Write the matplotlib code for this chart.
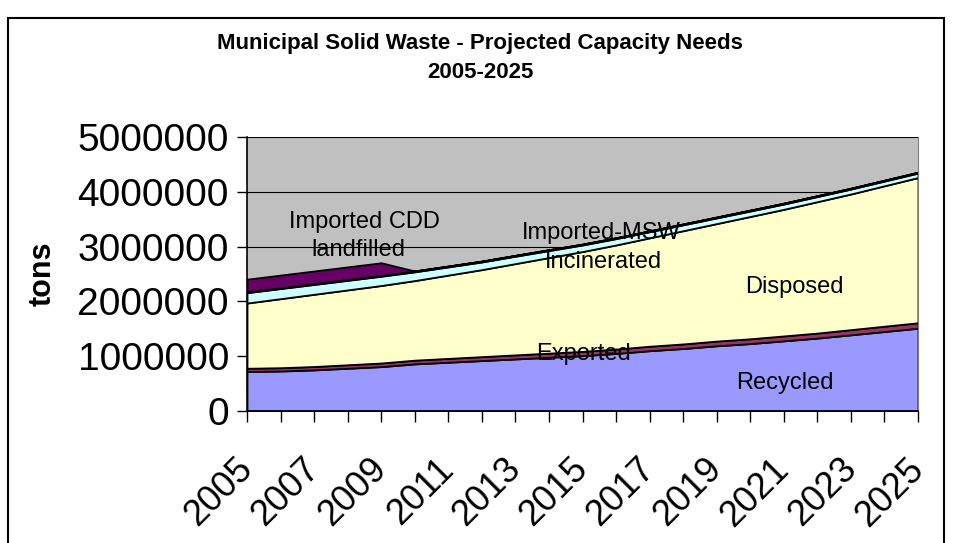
import matplotlib
matplotlib.use("Agg")
import matplotlib.pyplot as plt
from matplotlib.patches import Rectangle
from matplotlib.transforms import ScaledTranslation

years = list(range(2005, 2026))
recycled = [720000, 730000, 750000, 780000, 810000, 860000, 890000, 920000, 950000, 980000,
            1010000, 1050000, 1100000, 1140000, 1190000, 1230000, 1280000, 1330000, 1390000, 1450000, 1510000]
exported = [60000, 60000, 62000, 64000, 66000, 68000, 70000, 72000, 74000, 76000,
            78000, 80000, 82000, 84000, 86000, 88000, 90000, 92000, 95000, 98000, 100000]
disposed = [1190000, 1260000, 1318000, 1366000, 1414000, 1452000, 1520000, 1588000, 1666000, 1744000,
            1822000, 1900000, 1978000, 2066000, 2144000, 2232000, 2310000, 2398000, 2475000, 2562000, 2650000]
incinerated = [190000, 185000, 180000, 175000, 170000, 160000, 150000, 140000, 135000, 128000,
               120000, 116000, 112000, 108000, 104000, 100000, 97000, 94000, 90000, 86000, 82000]
imported_msw = [15000] * 21
imported_cdd = [230000, 230000, 230000, 230000, 230000, 0, 0, 0, 0, 0,
                0, 0, 0, 0, 0, 0, 0, 0, 0, 0, 0]

y_ticks = [0, 1000000, 2000000, 3000000, 4000000, 5000000]
x_label_years = list(range(2005, 2026, 2))

base_font = "Liberation Sans"

fig = plt.figure(figsize=(9.6, 5.43), dpi=100)
fig.patch.set_facecolor("white")

# outer frame
fig.patches.append(Rectangle((8/960, -0.05), (944-8)/960, 1.05 - 18/543,
                             transform=fig.transFigure, fill=False,
                             edgecolor="black", linewidth=1.5))

ax = fig.add_axes([247/960, 1-411/543, (918-247)/960, (411-137)/543])
ax.set_facecolor("#C0C0C0")
ax.set_axisbelow(True)
ax.yaxis.grid(True, color="black", linewidth=0.8)

colors = ["#9999FF", "#993366", "#FFFFCC", "#CCFFFF", "#000000", "#660066"]
ax.stackplot(years, recycled, exported, disposed, incinerated, imported_msw, imported_cdd,
             colors=colors, edgecolor="black", linewidth=1.3)

ax.set_xlim(2005, 2025)
ax.set_ylim(0, 5000000)
ax.set_yticks(y_ticks)
ax.set_yticklabels([str(v) for v in y_ticks], fontsize=28, family=base_font)
ax.set_xticks(years)
ax.set_xticklabels([str(y) if y in x_label_years else "" for y in years],
                   rotation=45, ha="right", va="center", rotation_mode="anchor",
                   fontsize=26, family=base_font)
offset = ScaledTranslation(-15/100, 0, fig.dpi_scale_trans)
for lab in ax.get_xticklabels():
    lab.set_transform(lab.get_transform() + offset)
ax.tick_params(axis="x", length=8, width=1, pad=30)
ax.tick_params(axis="y", length=7, width=1, pad=6)

for s in ["left", "bottom"]:
    ax.spines[s].set_color("black")
    ax.spines[s].set_linewidth(1.2)
ax.spines["top"].set_visible(False)
ax.spines["right"].set_color("#808080")

ax.set_ylabel("tons", fontsize=22, fontweight="bold", family=base_font, labelpad=14)

fig.text(480/960, 1-44/543, "Municipal Solid Waste - Projected Capacity Needs",
         ha="center", va="center", fontsize=16, fontweight="bold", family=base_font)
fig.text(480/960, 1-73/543, "2005-2025",
         ha="center", va="center", fontsize=16, fontweight="bold", family=base_font)

def ftxt(x, y, s):
    fig.text(x/960, 1-y/543, s, ha="center", va="center", fontsize=17, family=base_font)

ftxt(364, 222, "Imported CDD")
ftxt(358, 250, "landfilled")
ftxt(601, 233, "Imported-MSW")
ftxt(603, 262, "Incinerated")
ftxt(794, 287, "Disposed")
ftxt(583, 354, "Exported")
ftxt(785, 383, "Recycled")

fig.savefig("out.png", dpi=100)
